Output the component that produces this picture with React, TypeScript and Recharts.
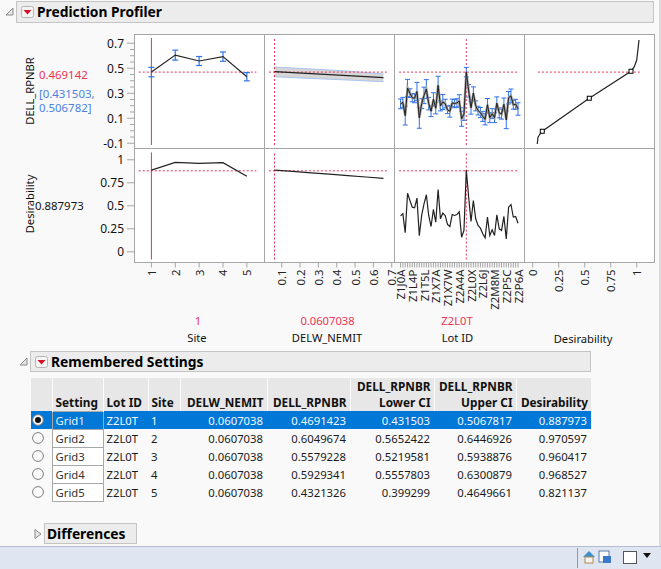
import React from 'react';
import { ComposedChart, Line, Area, XAxis, YAxis, ErrorBar, ReferenceLine } from 'recharts';

const FONT = '"Noto Sans", sans-serif';
const RED = '#ee3354';
const BLUE = '#2f73e6';
const GRID = '#a6a6a6';

const settingNames = ['Grid1', 'Grid2', 'Grid3', 'Grid4', 'Grid5'];
const siteValues = [1, 2, 3, 4, 5];
const delwSetting = 0.0607038;
const rpnbrValues = [0.4691423, 0.6049674, 0.5579228, 0.5929341, 0.4321326];
const lowerCI = [0.431503, 0.5652422, 0.5219581, 0.5557803, 0.399299];
const upperCI = [0.5067817, 0.6446926, 0.5938876, 0.6300879, 0.4649661];
const desirability = [0.887973, 0.970597, 0.960417, 0.968527, 0.821137];

const delwX = [0.0607, 0.16, 0.26, 0.36, 0.46, 0.56, 0.655];
const delwResponse = [0.473, 0.465, 0.457, 0.449, 0.441, 0.433, 0.425];
const delwLower = [0.432, 0.425, 0.419, 0.412, 0.406, 0.399, 0.393];
const delwUpper = [0.51, 0.502, 0.494, 0.486, 0.477, 0.466, 0.454];
const delwDesirability = [0.888, 0.873, 0.858, 0.843, 0.828, 0.813, 0.797];

const lotTickLabels = ['Z1J0A', 'Z1L4P', 'Z1T5L', 'Z1X7A', 'Z1X7W', 'Z2A4A', 'Z2L0X', 'Z2L6J', 'Z2M8M', 'Z2P5C', 'Z2P6A'];
const lotResponse = [
  0.215, 0.227, 0.121, 0.342, 0.301, 0.264, 0.26, 0.314, 0.104, 0.217, 0.283, 0.333, 0.217, 0.156, 0.251, 0.18, 0.363,
  0.199, 0.23, 0.217, 0.167, 0.156, 0.223, 0.217, 0.223, 0.238, 0.096, 0.133, 0.469, 0.32, 0.183, 0.301, 0.199, 0.161,
  0.146, 0.115, 0.092, 0.208, 0.105, 0.137, 0.105, 0.221, 0.143, 0.133, 0.212, 0.087, 0.264, 0.279, 0.208, 0.212, 0.174,
];
const lotHalfCI = [
  0.039, 0.04, 0.075, 0.069, 0.035, 0.032, 0.036, 0.073, 0.084, 0.04, 0.066, 0.076, 0.05, 0.043, 0.053, 0.045, 0.073,
  0.04, 0.06, 0.035, 0.03, 0.047, 0.03, 0.033, 0.033, 0.05, 0.06, 0.05, 0.038, 0.05, 0.05, 0.05, 0.04, 0.035, 0.04,
  0.04, 0.045, 0.05, 0.04, 0.04, 0.04, 0.05, 0.04, 0.04, 0.05, 0.07, 0.05, 0.055, 0.035, 0.04, 0.05,
];
const lotDesirability = [
  0.391, 0.413, 0.207, 0.637, 0.558, 0.485, 0.478, 0.583, 0.174, 0.395, 0.522, 0.62, 0.395, 0.275, 0.46, 0.322, 0.677,
  0.359, 0.42, 0.395, 0.297, 0.275, 0.405, 0.395, 0.405, 0.435, 0.159, 0.232, 0.888, 0.594, 0.329, 0.558, 0.359, 0.286,
  0.257, 0.196, 0.152, 0.377, 0.177, 0.239, 0.177, 0.402, 0.25, 0.232, 0.384, 0.141, 0.485, 0.514, 0.377, 0.384, 0.311,
];

const curveDesirability = [0.044, 0.051, 0.07, 0.092, 0.544, 0.945, 0.977, 1.0, 1.015, 1.022];
const curveResponse = [-0.106, -0.052, -0.026, -0.004, 0.26, 0.476, 0.513, 0.566, 0.673, 0.726];
const curveKnots = [0.092, 0.544, 0.945];

const responseTicks = [-0.1, -0.05, 0, 0.05, 0.1, 0.15, 0.2, 0.25, 0.3, 0.35, 0.4, 0.45, 0.5, 0.55, 0.6, 0.65, 0.7];
const responseLabels = [-0.1, 0.1, 0.3, 0.5, 0.7];
const desirabilityTicks = [0, 0.25, 0.5, 0.75, 1];
const delwTicks = [0.1, 0.2, 0.3, 0.4, 0.5, 0.6, 0.7];
const lotTicks = lotResponse.map((_, i) => i);

const siteData = siteValues.map((site, i) => ({
  x: site,
  r: rpnbrValues[i],
  err: [rpnbrValues[i] - lowerCI[i], upperCI[i] - rpnbrValues[i]],
  d: desirability[i],
}));
const delwData = delwX.map((x, i) => ({
  x,
  r: delwResponse[i],
  lo: delwLower[i],
  hi: delwUpper[i],
  band: [delwLower[i], delwUpper[i]],
  d: delwDesirability[i],
}));
const lotData = lotResponse.map((r, i) => ({ x: i, r, err: lotHalfCI[i], d: lotDesirability[i] }));
const curveData = curveDesirability.map((x, i) => ({ x, r: curveResponse[i] }));

const RESPONSE_DOMAIN: [number, number] = [-0.142, 0.774];
const DESIRABILITY_DOMAIN: [number, number] = [-0.116, 1.117];
const RESPONSE_VLINE: [number, number] = [-0.114, 0.742];
const DESIRABILITY_VLINE: [number, number] = [-0.084, 1.08];

const YTick = ({ x, y, payload, labels }: any) => {
  const v = Number(payload.value);
  const major = labels.some((l: number) => Math.abs(l - v) < 1e-6);
  return (
    <g>
      <line x1={x - (major ? 7 : 4)} x2={x} y1={y} y2={y} stroke={GRID} />
      {major && (
        <text x={x - 10} y={y} textAnchor="end" dominantBaseline="central" fontSize={12} fontFamily={FONT} fill="#111">
          {v}
        </text>
      )}
    </g>
  );
};

const XTick = ({ x, y, payload, format }: any) => {
  const text = format(payload.value);
  return (
    <text
      x={x}
      y={y + 2}
      transform={`rotate(-90 ${x} ${y + 2})`}
      textAnchor="end"
      dominantBaseline="central"
      fontSize={11.4}
      fontFamily={FONT}
      fill="#222"
    >
      {text}
    </text>
  );
};

// plot area sits exactly on the cell; the svg is padded so edge labels are not clipped
const Cell = ({ left, top, w, h, data, xDomain, yDomain, xTicks, xFormat, yTicks, yLabels, children }: any) => {
  const yw = yTicks ? 46 : 0;
  const xh = xTicks ? 62 : 0;
  const pad = 12;
  const padBottom = xTicks ? 0 : 10;
  return (
    <div style={{ position: 'absolute', left: left - yw, top }}>
      <ComposedChart
        width={w + yw + pad}
        height={h + xh + padBottom}
        data={data}
        margin={{ top: 0, right: pad, bottom: padBottom, left: 0 }}
      >
        <XAxis
          dataKey="x"
          type="number"
          domain={xDomain}
          allowDataOverflow
          hide={!xTicks}
          ticks={xTicks}
          interval={0}
          height={xh}
          axisLine={false}
          tickLine={{ stroke: GRID }}
          tickSize={5}
          tickMargin={0}
          tick={(p: any) => <XTick {...p} format={xFormat || String} />}
        />
        <YAxis
          type="number"
          domain={yDomain}
          allowDataOverflow
          hide={!yTicks}
          ticks={yTicks}
          interval={0}
          width={yw}
          axisLine={false}
          tickLine={false}
          tickSize={0}
          tickMargin={0}
          tick={(p: any) => <YTick {...p} labels={yLabels} />}
        />
        {children}
      </ComposedChart>
    </div>
  );
};

const hSegment = (y: number, a: number, b: number) => (
  <ReferenceLine segment={[{ x: a, y }, { x: b, y }]} stroke={RED} strokeDasharray="2 2" />
);
const vSegment = (x: number, range: [number, number], dashed = true) => (
  <ReferenceLine
    segment={[{ x, y: range[0] }, { x, y: range[1] }]}
    stroke={dashed ? RED : '#e23450'}
    strokeDasharray={dashed ? '2 2' : undefined}
  />
);

const lineProps = { type: 'linear' as const, stroke: '#222', strokeWidth: 1.2, dot: false, isAnimationActive: false };

const Bar = ({ left, top, width, height, title, button = true, open = true }: any) => (
  <>
    <svg style={{ position: 'absolute', left: left - 11, top: top + 6 }} width={10} height={10}>
      {open ? (
        <path d="M1 8 L8 8 L8 1 Z" fill="#e6e6e6" stroke="#8a8a8a" />
      ) : (
        <path d="M2 0.5 L8 5 L2 9.5 Z" fill="#e6e6e6" stroke="#8a8a8a" />
      )}
    </svg>
    <div
      style={{
        position: 'absolute',
        left,
        top,
        width,
        height,
        boxSizing: 'border-box',
        background: '#ececec',
        border: '1px solid #c4c4c4',
      }}
    />
    {button && (
      <svg style={{ position: 'absolute', left: left + 5, top: top + 5 }} width={13} height={12}>
        <rect x={0.5} y={0.5} width={12} height={11} rx={2} fill="#f4f4f4" stroke="#b5b5b5" />
        <path d="M2.5 4 L10.5 4 L6.5 8.5 Z" fill="#d8102c" />
      </svg>
    )}
    <div
      style={{
        position: 'absolute',
        left: left + (button ? 21 : 3),
        top: top + 1,
        height: height - 2,
        lineHeight: `${height - 2}px`,
        fontFamily: FONT,
        fontWeight: 700,
        fontSize: 13.8,
        color: '#000',
        whiteSpace: 'nowrap',
      }}
    >
      {title}
    </div>
  </>
);

const Label = ({ x, y, color = '#111', size = 11.2, children }: any) => (
  <div
    style={{
      position: 'absolute',
      left: x,
      top: y,
      transform: 'translate(-50%, -50%)',
      fontFamily: FONT,
      fontSize: size,
      color,
      whiteSpace: 'nowrap',
    }}
  >
    {children}
  </div>
);

const LeftLabel = ({ x, y, color = '#111', children }: any) => (
  <div
    style={{
      position: 'absolute',
      left: x,
      top: y,
      transform: 'translateY(-50%)',
      fontFamily: FONT,
      fontSize: 11.4,
      color,
      whiteSpace: 'nowrap',
    }}
  >
    {children}
  </div>
);

const Radio = ({ on }: { on: boolean }) => (
  <svg width={12} height={12} style={{ display: 'block', marginLeft: 1 }}>
    <circle cx={6} cy={6} r={5.4} fill={on ? '#f4f4f4' : '#fafafa'} stroke="#7d7d7d" />
    {on && <circle cx={6} cy={6} r={3} fill="#111" />}
  </svg>
);

const columnWidths = [21, 51, 45, 32, 87, 83, 84, 82, 75];

const SettingsTable = () => {
  const head = (align: string, extra: any = {}) => ({
    background: '#e7e7e7',
    padding: '0 3px 1px',
    verticalAlign: 'bottom',
    textAlign: align,
    fontWeight: 700,
    fontSize: 11.8,
    lineHeight: '16px',
    borderRight: '1px solid #fafafa',
    ...extra,
  });
  return (
    <table
      style={{
        position: 'absolute',
        left: 31,
        top: 378,
        width: 560,
        tableLayout: 'fixed',
        borderCollapse: 'collapse',
        fontFamily: FONT,
        fontSize: 11.3,
        color: '#111',
      }}
    >
      <colgroup>
        {columnWidths.map((w, i) => (
          <col key={i} style={{ width: w }} />
        ))}
      </colgroup>
      <thead>
        <tr style={{ height: 33 }}>
          <th style={head('left') as any} />
          <th style={head('left') as any}>Setting</th>
          <th style={head('left') as any}>Lot ID</th>
          <th style={head('left') as any}>Site</th>
          <th style={head('right') as any}>DELW_NEMIT</th>
          <th style={head('right') as any}>DELL_RPNBR</th>
          <th style={head('right') as any}>
            DELL_RPNBR
            <br />
            Lower CI
          </th>
          <th style={head('right') as any}>
            DELL_RPNBR
            <br />
            Upper CI
          </th>
          <th style={head('right', { borderRight: 'none' }) as any}>Desirability</th>
        </tr>
      </thead>
      <tbody>
        {settingNames.map((name, i) => {
          const sel = i === 0;
          const cell: any = { padding: '0 3px', height: 17, lineHeight: '15px', whiteSpace: 'nowrap' };
          const num: any = { ...cell, textAlign: 'right', paddingRight: 4 };
          return (
            <tr key={name} style={{ background: sel ? '#0078d7' : 'transparent', color: sel ? '#f2f7fc' : '#1a1a1a' }}>
              <td style={{ padding: 0 }}>
                <Radio on={sel} />
              </td>
              <td style={{ ...cell, background: sel ? '#0078d7' : '#fff', border: '1px solid #a8a8a8', color: sel ? '#e8f1fa' : '#333' }}>
                {name}
              </td>
              <td style={cell}>Z2L0T</td>
              <td style={cell}>{siteValues[i]}</td>
              <td style={num}>{delwSetting}</td>
              <td style={num}>{rpnbrValues[i]}</td>
              <td style={num}>{lowerCI[i]}</td>
              <td style={num}>{upperCI[i]}</td>
              <td style={num}>{desirability[i]}</td>
            </tr>
          );
        })}
      </tbody>
    </table>
  );
};

const StatusBar = () => (
  <>
    <div
      style={{
        position: 'absolute',
        left: 0,
        top: 546,
        width: 661,
        height: 23,
        boxSizing: 'border-box',
        background: '#e0e6f1',
        borderTop: '1px solid #b4bcd2',
      }}
    />
    <svg style={{ position: 'absolute', left: 577, top: 547 }} width={84} height={22}>
      <line x1={0.5} x2={0.5} y1={1} y2={21} stroke="#8f97a8" />
      <path d="M6 10 L12 4 L18 10 Z" fill="#3a8fd0" />
      <rect x={8} y={10} width={8} height={6} fill="#f4f4f4" stroke="#b48a4a" />
      <rect x={22} y={4} width={10} height={11} fill="#fff" stroke="#5a78a8" />
      <rect x={26} y={9} width={8} height={7} fill="#3a78c8" />
      <rect x={46.5} y={4.5} width={13} height={12} fill="#fff" stroke="#555" />
      <path d="M66 6 L74 6 L70 11 Z" fill="#111" />
    </svg>
  </>
);

const Plots = () => (
  <>
    {/* row 1: predicted response */}
    <Cell left={134} top={34} w={130} h={114.5} data={siteData} xDomain={[0.27, 5.72]} yDomain={RESPONSE_DOMAIN} yTicks={responseTicks} yLabels={responseLabels}>
      {hSegment(rpnbrValues[0], 0.47, 5.4)}
      {vSegment(1, RESPONSE_VLINE, false)}
      <Line dataKey="r" {...lineProps}>
        <ErrorBar dataKey="err" width={3} stroke={BLUE} strokeWidth={1.2} isAnimationActive={false} />
      </Line>
    </Cell>
    <Cell left={264} top={34} w={130} h={114.5} data={delwData} xDomain={[0.0033, 0.7126]} yDomain={RESPONSE_DOMAIN}>
      <Area dataKey="band" type="linear" fill="#d6d6d6" fillOpacity={1} stroke="none" isAnimationActive={false} />
      <Line dataKey="lo" type="linear" stroke="#a9c3f2" strokeWidth={1} dot={false} isAnimationActive={false} />
      <Line dataKey="hi" type="linear" stroke="#a9c3f2" strokeWidth={1} dot={false} isAnimationActive={false} />
      {hSegment(rpnbrValues[0], 0.03, 0.677)}
      {vSegment(delwSetting, RESPONSE_VLINE)}
      <Line dataKey="r" {...lineProps} />
    </Cell>
    <Cell left={394} top={34} w={130} h={114.5} data={lotData} xDomain={[-2.77, 52.55]} yDomain={RESPONSE_DOMAIN}>
      {hSegment(rpnbrValues[0], -0.6, 50)}
      {vSegment(28, RESPONSE_VLINE)}
      <Line dataKey="r" type="linear" stroke="#9a9a9a" strokeWidth={2.4} dot={false} isAnimationActive={false}>
        <ErrorBar dataKey="err" width={2.5} stroke={BLUE} strokeWidth={1} isAnimationActive={false} />
      </Line>
      <Line dataKey="r" {...lineProps} strokeWidth={1} />
    </Cell>
    <Cell left={524} top={34} w={130.5} h={114.5} data={curveData} xDomain={[-0.0837, 1.171]} yDomain={RESPONSE_DOMAIN}>
      {hSegment(rpnbrValues[0], 0.05, 1.03)}
      <Line
        dataKey="r"
        {...lineProps}
        dot={(p: any) =>
          curveKnots.includes(p.payload.x) ? (
            <rect key={p.index} x={p.cx - 2} y={p.cy - 2} width={4} height={4} fill="#fff" stroke="#000" strokeWidth={1} />
          ) : (
            <g key={p.index} />
          )
        }
      />
    </Cell>

    {/* row 2: desirability */}
    <Cell left={134} top={148.5} w={130} h={113.5} data={siteData} xDomain={[0.27, 5.72]} yDomain={DESIRABILITY_DOMAIN} xTicks={siteValues} yTicks={desirabilityTicks} yLabels={desirabilityTicks}>
      {hSegment(0.88, 0.47, 5.4)}
      {vSegment(1, DESIRABILITY_VLINE, false)}
      <Line dataKey="d" {...lineProps} />
    </Cell>
    <Cell left={264} top={148.5} w={130} h={113.5} data={delwData} xDomain={[0.0033, 0.7126]} yDomain={DESIRABILITY_DOMAIN} xTicks={delwTicks}>
      {hSegment(0.88, 0.03, 0.677)}
      {vSegment(delwSetting, DESIRABILITY_VLINE)}
      <Line dataKey="d" {...lineProps} />
    </Cell>
    <Cell
      left={394}
      top={148.5}
      w={130}
      h={113.5}
      data={lotData}
      xDomain={[-2.77, 52.55]}
      yDomain={DESIRABILITY_DOMAIN}
      xTicks={lotTicks}
      xFormat={(v: number) => (v % 5 === 0 ? lotTickLabels[v / 5] : '')}
    >
      {hSegment(0.88, -0.6, 50)}
      {vSegment(28, DESIRABILITY_VLINE)}
      <Line dataKey="d" {...lineProps} />
    </Cell>
    <Cell left={524} top={148.5} w={130.5} h={113.5} data={curveData} xDomain={[-0.0837, 1.171]} yDomain={DESIRABILITY_DOMAIN} xTicks={desirabilityTicks} />
  </>
);

export default function App() {
  const hLines = [34, 148, 262];
  const vLines = [134, 264, 394, 524, 654];
  return (
    <div style={{ position: 'absolute', left: 0, top: 0, width: 661, height: 569, overflow: 'hidden', background: '#f9f9f9' }}>
      <div style={{ position: 'absolute', left: 659, top: 0, width: 2, height: 546, background: '#dcdcdc' }} />
      <Bar left={16} top={1} width={638} height={22} title="Prediction Profiler" />

      <div style={{ position: 'absolute', left: 134, top: 34, width: 520, height: 228, background: '#fff' }} />
      <Plots />
      {hLines.map((y) => (
        <div key={y} style={{ position: 'absolute', left: 134, top: y, width: 521, height: 1.4, background: GRID }} />
      ))}
      {vLines.map((x) => (
        <div key={x} style={{ position: 'absolute', left: x, top: 34, width: 1.4, height: 229, background: GRID }} />
      ))}

      <Label x={29} y={91}>
        <div style={{ transform: 'rotate(-90deg)' }}>DELL_RPNBR</div>
      </Label>
      <Label x={29} y={204}>
        <div style={{ transform: 'rotate(-90deg)' }}>Desirability</div>
      </Label>
      <LeftLabel x={39} y={74} color={RED}>0.469142</LeftLabel>
      <LeftLabel x={39} y={93} color="#4a82e8">[0.431503,</LeftLabel>
      <LeftLabel x={39} y={107} color="#4a82e8">0.506782]</LeftLabel>
      <LeftLabel x={35} y={205}>0.887973</LeftLabel>

      <Label x={198} y={320} color={RED}>1</Label>
      <Label x={197} y={337}>Site</Label>
      <Label x={327.5} y={320} color={RED}>0.0607038</Label>
      <Label x={327} y={337}>DELW_NEMIT</Label>
      <Label x={457} y={320} color={RED}>Z2L0T</Label>
      <Label x={457.5} y={337}>Lot ID</Label>
      <Label x={583} y={338}>Desirability</Label>

      <Bar left={30} top={351} width={561} height={21} title="Remembered Settings" />
      <SettingsTable />
      <Bar left={44} top={523} width={93} height={21} title="Differences" button={false} open={false} />
      <StatusBar />
    </div>
  );
}
